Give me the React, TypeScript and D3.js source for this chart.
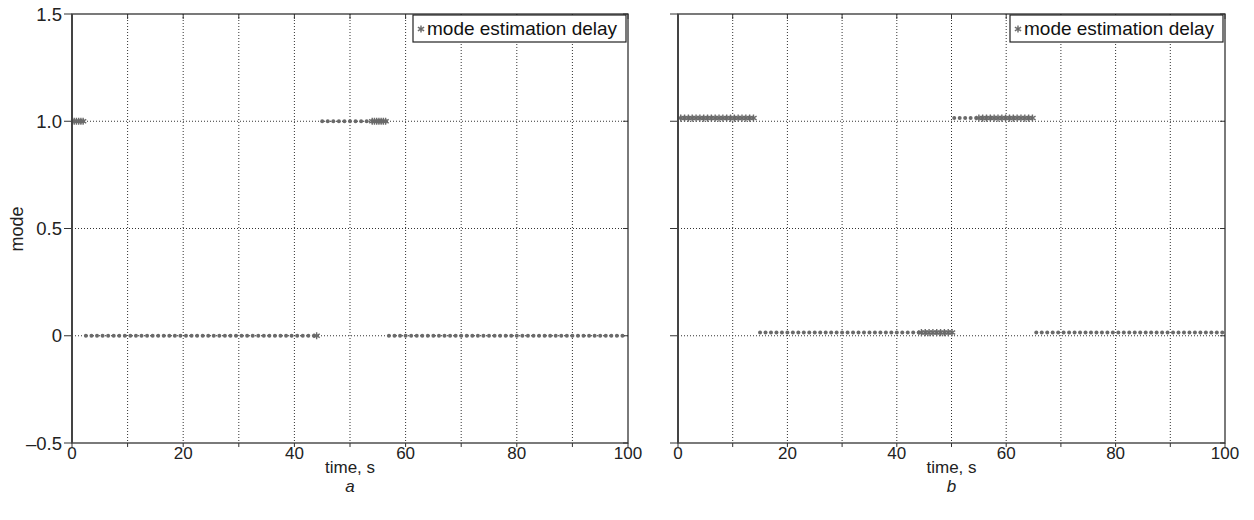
import React from "react";
import * as d3 from "d3";

// Samples: [start time, end time, step, mode value]
const panelADots: [number, number, number, number][] = [
  [2.5, 43.5, 1, 0],
  [45, 53, 1, 1],
  [57, 99, 1, 0],
];
const panelAStars: [number, number, number, number][] = [
  [0.4, 2.0, 0.4, 1],
  [44, 44, 1, 0],
  [54, 56.4, 0.4, 1],
];
const panelBDots: [number, number, number, number][] = [
  [15, 44, 1, 0.015],
  [50.5, 54.5, 1, 1.015],
  [65.5, 99.5, 1, 0.015],
];
const panelBStars: [number, number, number, number][] = [
  [0.5, 14.1, 0.7, 1.015],
  [44.5, 50.1, 0.7, 0.015],
  [55, 64.8, 0.7, 1.015],
];

const xTicks = [0, 10, 20, 30, 40, 50, 60, 70, 80, 90, 100];
const xTickLabels = ["0", "", "20", "", "40", "", "60", "", "80", "", "100"];
const yTicks = [1.5, 1.0, 0.5, 0, -0.5];
const yTickLabels = ["1.5", "1.0", "0.5", "0", "–0.5"];
const legendLabel = "mode estimation delay";

const FONT = "'Liberation Sans', Arial, Helvetica, sans-serif";
const MARK = "#6a6a6a";

function expand(segs: [number, number, number, number][]) {
  const pts: { t: number; v: number }[] = [];
  segs.forEach(([a, b, s, v]) => {
    for (let i = 0; a + i * s <= b + 1e-9; i++) pts.push({ t: a + i * s, v });
  });
  return pts;
}

const star = d3.symbol(d3.symbolAsterisk, 36)();

function Panel({ left, right, top, bottom, dots, stars, showY, letter }: any) {
  const x = d3.scaleLinear().domain([0, 100]).range([left, right]);
  const y = d3.scaleLinear().domain([-0.5, 1.5]).range([bottom, top]);
  const dp = expand(dots);
  const sp = expand(stars);
  const cx = (left + right) / 2;
  return (
    <g>
      {/* grid */}
      {xTicks.slice(1, -1).map((t) => (
        <line key={"gx" + t} x1={x(t)} x2={x(t)} y1={top} y2={bottom} stroke="#333" strokeWidth={1} strokeDasharray="1,2" />
      ))}
      {yTicks.slice(1, -1).map((t) => (
        <line key={"gy" + t} x1={left} x2={right} y1={y(t)} y2={y(t)} stroke="#333" strokeWidth={1} strokeDasharray="1,2" />
      ))}
      {/* ticks */}
      {xTicks.map((t, i) => (
        <g key={"tx" + t}>
          <line x1={x(t)} x2={x(t)} y1={bottom} y2={bottom + 4} stroke="#333" />
          <line x1={x(t)} x2={x(t)} y1={top} y2={top + 5} stroke="#333" />
          {xTickLabels[i] && (
            <text x={x(t)} y={bottom + 16} textAnchor="middle" fontSize={17} fill="#222" fontFamily={FONT}>
              {xTickLabels[i]}
            </text>
          )}
        </g>
      ))}
      {yTicks.map((t, i) => (
        <g key={"ty" + t}>
          <line x1={left - 8} x2={left} y1={y(t)} y2={y(t)} stroke="#333" />
          <line x1={right} x2={right - 5} y1={y(t)} y2={y(t)} stroke="#333" />
          {showY && (
            <text x={left - 10} y={y(t) + 6.5} textAnchor="end" fontSize={18.5} fill="#222" fontFamily={FONT}>
              {yTickLabels[i]}
            </text>
          )}
        </g>
      ))}
      {/* data */}
      {dp.map((p, i) => (
        <circle key={"d" + i} cx={x(p.t)} cy={y(p.v)} r={2} fill={MARK} />
      ))}
      {sp.map((p, i) => (
        <path key={"s" + i} d={star || ""} transform={`translate(${x(p.t)},${y(p.v)})`} fill="none" stroke={MARK} strokeWidth={1.4} />
      ))}
      {/* frame */}
      <rect x={left} y={top} width={right - left} height={bottom - top} fill="none" stroke="#333" strokeWidth={1.3} />
      <line x1={left} x2={left} y1={top} y2={bottom} stroke="#444" strokeWidth={2} />
      {/* legend */}
      <rect x={right - 215} y={top + 1} width={213} height={27} fill="#fff" stroke="#222" strokeWidth={1.2} />
      <path d={star || ""} transform={`translate(${right - 207},${top + 15})`} fill="none" stroke={MARK} strokeWidth={1.4} />
      <text x={right - 201} y={top + 21} fontSize={19} fill="#111" fontFamily={FONT}>
        {legendLabel}
      </text>
      {/* labels */}
      <text x={cx} y={bottom + 30} textAnchor="middle" fontSize={17} fill="#222" fontFamily={FONT}>
        time, s
      </text>
      <text x={cx} y={bottom + 49} textAnchor="middle" fontSize={17} fontStyle="italic" fill="#222" fontFamily={FONT}>
        {letter}
      </text>
    </g>
  );
}

export default function App() {
  return (
    <svg width={1254} height={520} style={{ position: "absolute", left: 0, top: 0, background: "#fff" }}>
      <rect width={1254} height={520} fill="#fff" />
      <Panel left={72} right={628} top={14} bottom={443} dots={panelADots} stars={panelAStars} showY={true} letter="a" />
      <Panel left={678} right={1225} top={14} bottom={443} dots={panelBDots} stars={panelBStars} showY={false} letter="b" />
      <text transform="translate(23,229) rotate(-90)" textAnchor="middle" fontSize={18} fill="#222" fontFamily={FONT}>
        mode
      </text>
    </svg>
  );
}
